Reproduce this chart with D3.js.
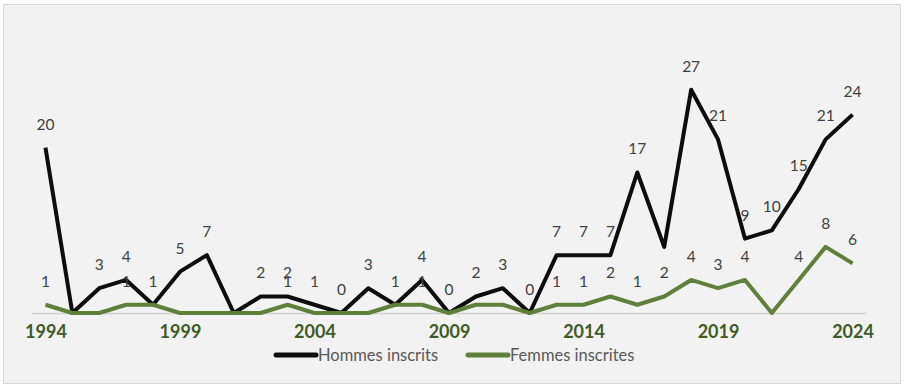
<!DOCTYPE html>
<html>
<head>
<meta charset="utf-8">
<script src="https://cdn.jsdelivr.net/npm/d3@7/dist/d3.min.js"></script>
<style>
  body { margin: 0; background: #fff; }
  svg { display: block; }
</style>
</head>
<body>
<div id="chart"></div>
<script>
// years on the x axis
const years = d3.range(1994, 2025);
const tickYears = [1994, 1999, 2004, 2009, 2014, 2019, 2024];

// Hommes inscrits
const hommes = [20, 0, 3, 4, 1, 5, 7, 0, 2, 2, 1, 0, 3, 1, 4, 0, 2, 3, 0, 7, 7, 7, 17, 8, 27, 21, 9, 10, 15, 21, 24];
// Femmes inscrites
const femmes = [1, 0, 0, 1, 1, 0, 0, 0, 0, 1, 0, 0, 0, 1, 1, 0, 1, 1, 0, 1, 1, 2, 1, 2, 4, 3, 4, 0, 4, 8, 6];

// data labels actually visible in the picture (null = not shown)
const hommesLabels = [20, null, 3, 4, 1, 5, 7, null, 2, 2, 1, 0, 3, 1, 4, 0, 2, 3, 0, 7, 7, 7, 17, null, 27, 21, 9, 10, 15, 21, 24];
const femmesLabels = [1, null, null, 1, null, null, null, null, null, 1, null, null, null, null, 1, null, null, null, null, 1, 1, 2, 1, 2, 4, 3, 4, null, 4, 8, 6];

const series = [
  { name: 'Hommes inscrits', values: hommes, labels: hommesLabels, color: '#0d0d0d' },
  { name: 'Femmes inscrites', values: femmes, labels: femmesLabels, color: '#5f7f3b' }
];

const width = 904, height = 388;

const svg = d3.select('#chart')
  .append('svg')
  .attr('width', width)
  .attr('height', height);

// chart background with light border
svg.append('rect')
  .attr('x', 3.5).attr('y', 4.5)
  .attr('width', 897).attr('height', 379)
  .attr('fill', '#f2f2f2')
  .attr('stroke', '#d9d9d9');

const x = d3.scalePoint()
  .domain(years)
  .range([32, 866])
  .padding(0.5);

const y = d3.scaleLinear()
  .domain([0, 30])
  .range([313, 65]);

// baseline
svg.append('line')
  .attr('x1', 32).attr('x2', 866)
  .attr('y1', y(0) + 0.5).attr('y2', y(0) + 0.5)
  .attr('stroke', '#d0d0d0')
  .attr('stroke-width', 1.5);

// x axis labels
const xAxis = d3.axisBottom(x)
  .tickValues(tickYears)
  .tickSize(0)
  .tickPadding(0);

const axisG = svg.append('g')
  .attr('transform', `translate(0, ${y(0) + 12})`)
  .call(xAxis);
axisG.select('.domain').remove();
axisG.selectAll('text')
  .attr('fill', '#3f5a26')
  .style('font-family', 'Lato, "Open Sans", sans-serif')
  .style('font-weight', 'bold')
  .style('font-size', '18px');

const line = d3.line()
  .x((d, i) => x(years[i]))
  .y(d => y(d));

series.forEach(s => {
  svg.append('path')
    .datum(s.values)
    .attr('fill', 'none')
    .attr('stroke', s.color)
    .attr('stroke-width', 4)
    .attr('stroke-linejoin', 'round')
    .attr('d', line);
});

// data labels (drawn after both lines, like the original)
series.forEach(s => {
  svg.append('g')
    .selectAll('text')
    .data(s.labels.map((l, i) => ({ l, i })).filter(d => d.l !== null))
    .join('text')
    .attr('x', d => x(years[d.i]))
    .attr('y', d => y(s.values[d.i]) - 18)
    .attr('text-anchor', 'middle')
    .attr('fill', '#404040')
    .style('font-family', 'Lato, "Open Sans", sans-serif')
    .style('font-size', '15.5px')
    .text(d => d.l);
});

// legend
const legend = svg.append('g')
  .attr('transform', 'translate(274, 355)');

const legendItems = legend.selectAll('g')
  .data(series)
  .join('g')
  .attr('transform', (d, i) => `translate(${i * 192}, 0)`);

legendItems.append('line')
  .attr('x1', 2).attr('x2', 42)
  .attr('y1', 0).attr('y2', 0)
  .attr('stroke', d => d.color)
  .attr('stroke-width', 5)
  .attr('stroke-linecap', 'round');

legendItems.append('text')
  .attr('x', 44)
  .attr('y', 5.5)
  .attr('fill', '#595959')
  .style('font-family', 'Lato, "Open Sans", sans-serif')
  .style('font-size', '16.5px')
  .text(d => d.name);
</script>
</body>
</html>
